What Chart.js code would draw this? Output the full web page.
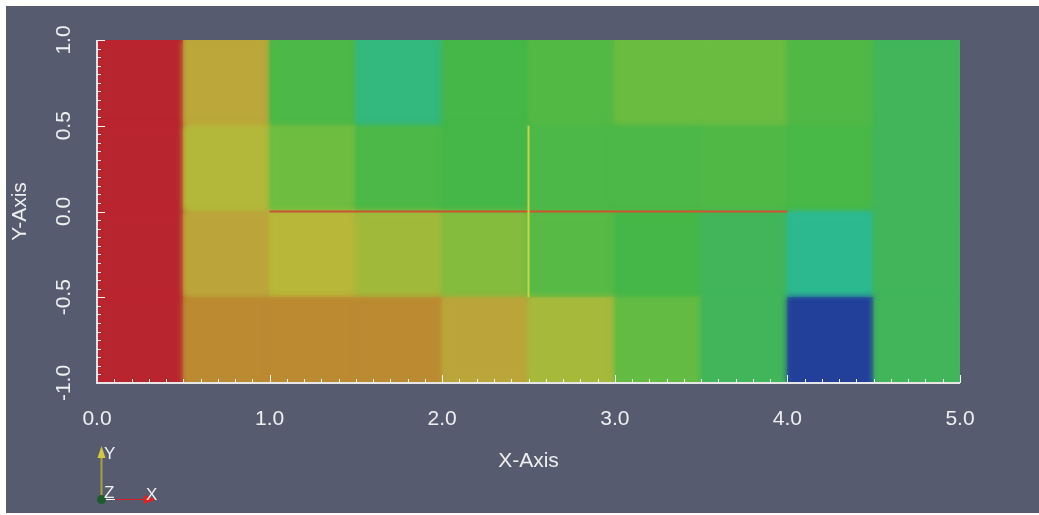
<!DOCTYPE html>
<html>
<head>
<meta charset="utf-8">
<script src="https://cdn.jsdelivr.net/npm/chart.js@4.4.1/dist/chart.umd.min.js"></script>
<style>
  html, body { margin: 0; padding: 0; background: #fff; overflow: hidden; }
  #wrap { width: 1039px; height: 515px; position: relative; }
</style>
</head>
<body>
<div id="wrap"><canvas id="myChart"></canvas></div>
<script>
// cell centres along x, one row of cells per y band
const xCenters = [0.25, 0.75, 1.25, 1.75, 2.25, 2.75, 3.25, 3.75, 4.25, 4.75]
const rowBands = [[0.5, 1], [0, 0.5], [-0.5, 0], [-1, -0.5]]

// scalar value of each cell (0 = blue ... 1 = red)
const rowTop    = [1.00, 0.79, 0.50, 0.37, 0.48, 0.52, 0.58, 0.58, 0.51, 0.43]
const rowUpper  = [1.00, 0.71, 0.59, 0.50, 0.48, 0.50, 0.50, 0.51, 0.49, 0.43]
const rowLower  = [1.00, 0.80, 0.72, 0.68, 0.63, 0.53, 0.48, 0.43, 0.34, 0.43]
const rowBottom = [1.00, 0.88, 0.88, 0.88, 0.80, 0.69, 0.56, 0.43, 0.00, 0.43]
const rows = [rowTop, rowUpper, rowLower, rowBottom]

// probe lines
const redLineX = [1, 4]
const redLineY = [0, 0]
const yellowLineX = [2.5, 2.5]
const yellowLineY = [-0.5, 0.5]

const xTicks = [0, 1, 2, 3, 4, 5]
const yTicks = [-1, -0.5, 0, 0.5, 1]

// colour map
const stops = [
    [0.00, [34, 64, 154]],
    [0.22, [34, 184, 208]],
    [0.35, [45, 185, 138]],
    [0.42, [66, 181, 94]],
    [0.48, [68, 183, 72]],
    [0.60, [114, 189, 64]],
    [0.72, [185, 183, 57]],
    [0.80, [187, 165, 58]],
    [0.88, [187, 138, 49]],
    [1.00, [185, 37, 46]]
]
function toColor(t) {
    for (var i = 1; i < stops.length; i++) {
        if (t <= stops[i][0]) {
            const a = stops[i - 1], b = stops[i]
            const f = (t - a[0]) / (b[0] - a[0])
            const c = a[1].map((v, k) => Math.round(v + (b[1][k] - v) * f))
            return 'rgb(' + c.join(',') + ')'
        }
    }
    return 'rgb(' + stops[stops.length - 1][1].join(',') + ')'
}

const textColor = '#efefef'
const fontFamily = '"Liberation Sans", Arial, sans-serif'
Chart.defaults.font.family = fontFamily

// all cells in one dataset so they can be smoothed together
var cells = []
var cellColors = []
rows.forEach((vals, i) => {
    vals.forEach((v, j) => {
        cells.push({ x: xCenters[j], y: rowBands[i] })
        cellColors.push(toColor(v))
    })
})

const datasets = [{
    type: 'bar',
    data: cells,
    backgroundColor: cellColors,
    borderWidth: 0,
    barPercentage: 1,
    categoryPercentage: 1,
    grouped: false,
    order: 2
}, {
    type: 'line',
    data: redLineX.map((x, i) => ({ x: x, y: redLineY[i] })),
    borderColor: '#cc5430',
    borderWidth: 2,
    pointRadius: 0,
    order: 1
}, {
    type: 'line',
    data: yellowLineX.map((x, i) => ({ x: x, y: yellowLineY[i] })),
    borderColor: '#c9d444',
    borderWidth: 2,
    pointRadius: 0,
    order: 0
}]

const decor = {
    id: 'decor',
    beforeDraw(chart) {
        const ctx = chart.ctx
        ctx.save()
        ctx.fillStyle = '#ffffff'
        ctx.fillRect(0, 0, chart.width, chart.height)
        ctx.fillStyle = '#565b70'
        ctx.fillRect(6, 6, chart.width - 6, chart.height - 8)
        ctx.restore()
    },
    beforeDatasetDraw(chart, args) {
        if (args.meta.type !== 'bar') return
        const ctx = chart.ctx
        const a = chart.chartArea
        // sharp pass first, then a blurred pass on top for the soft cell edges
        ctx.save()
        ctx.beginPath()
        ctx.rect(a.left, a.top, a.right - a.left, a.bottom - a.top)
        ctx.clip()
        args.meta.controller.draw()
        ctx.restore()
        ctx.save()
        ctx.filter = 'blur(3px)'
    },
    afterDatasetDraw(chart, args) {
        if (args.meta.type !== 'bar') return
        chart.ctx.restore()
    },
    afterDatasetsDraw(chart) {
        const ctx = chart.ctx
        const xs = chart.scales.x, ys = chart.scales.y
        const a = chart.chartArea
        ctx.save()
        // inward tick marks
        ctx.strokeStyle = '#f2f2f2'
        ctx.lineWidth = 1
        ctx.beginPath()
        for (var i = 0; i <= 50; i++) {
            const px = Math.round(xs.getPixelForValue(i / 10)) + 0.5
            const len = i % 10 === 0 ? 8 : 4
            ctx.moveTo(px, a.bottom)
            ctx.lineTo(px, a.bottom - len)
        }
        for (var j = 0; j <= 40; j++) {
            const py = Math.round(ys.getPixelForValue(-1 + j * 0.05)) + 0.5
            const len = j % 10 === 0 ? 8 : 4
            ctx.moveTo(a.left, py)
            ctx.lineTo(a.left + len, py)
        }
        ctx.stroke()
        // axis lines
        ctx.strokeStyle = '#e6e6e6'
        ctx.lineWidth = 2
        ctx.beginPath()
        ctx.moveTo(a.left, a.top)
        ctx.lineTo(a.left, a.bottom)
        ctx.lineTo(a.right, a.bottom)
        ctx.stroke()
        // rotated y tick labels
        ctx.fillStyle = textColor
        ctx.font = '21px ' + fontFamily
        ctx.textAlign = 'center'
        ctx.textBaseline = 'alphabetic'
        yTicks.forEach(v => {
            ctx.save()
            ctx.translate(70, ys.getPixelForValue(v))
            ctx.rotate(-Math.PI / 2)
            ctx.fillText(v.toFixed(1), 0, 0)
            ctx.restore()
        })
        ctx.restore()
    },
    afterDraw(chart) {
        // orientation triad in the corner
        const ctx = chart.ctx
        ctx.save()
        ctx.lineWidth = 2
        ctx.strokeStyle = '#a9a23c'
        ctx.beginPath()
        ctx.moveTo(101.5, 499)
        ctx.lineTo(101.5, 455)
        ctx.stroke()
        ctx.fillStyle = '#d2c842'
        ctx.beginPath()
        ctx.moveTo(97.5, 458)
        ctx.lineTo(105.5, 458)
        ctx.lineTo(101.5, 446)
        ctx.fill()
        ctx.strokeStyle = '#ffffff'
        ctx.lineWidth = 1
        ctx.beginPath()
        ctx.moveTo(103, 499.5)
        ctx.lineTo(115, 499.5)
        ctx.stroke()
        ctx.strokeStyle = '#d42020'
        ctx.beginPath()
        ctx.moveTo(115, 499.5)
        ctx.lineTo(145, 499.5)
        ctx.stroke()
        ctx.fillStyle = '#e02222'
        ctx.beginPath()
        ctx.moveTo(144, 495)
        ctx.lineTo(144, 504)
        ctx.lineTo(156, 499.5)
        ctx.fill()
        ctx.fillStyle = '#1d5a2c'
        ctx.beginPath()
        ctx.arc(101.5, 499.5, 4.5, 0, Math.PI * 2)
        ctx.fill()
        ctx.fillStyle = '#f0f0f0'
        ctx.font = '17px ' + fontFamily
        ctx.textAlign = 'left'
        ctx.textBaseline = 'alphabetic'
        ctx.fillText('Y', 104, 459)
        ctx.fillText('Z', 104, 498)
        ctx.fillText('X', 146, 500)
        ctx.restore()
    }
}

var myChart = new Chart(document.getElementById('myChart').getContext('2d'), {
    type: 'bar',
    data: { datasets: datasets },
    options: {
        responsive: true,
        maintainAspectRatio: false,
        animation: false,
        layout: { padding: { top: 40, right: 79, left: 0, bottom: 0 } },
        plugins: { legend: { display: false }, tooltip: { enabled: false } },
        scales: {
            x: {
                type: 'linear',
                min: 0,
                max: 5,
                offset: false,
                afterBuildTicks: s => { s.ticks = xTicks.map(v => ({ value: v })) },
                afterFit: s => { s.height = 132 },
                grid: { display: false, drawTicks: false },
                border: { display: false },
                ticks: {
                    color: textColor,
                    font: { size: 21 },
                    padding: 24,
                    maxRotation: 0,
                    callback: v => Number(v).toFixed(1)
                },
                title: {
                    display: true,
                    text: 'X-Axis',
                    color: textColor,
                    font: { size: 21 },
                    padding: { top: 0, bottom: 41 }
                }
            },
            y: {
                type: 'linear',
                min: -1,
                max: 1,
                afterFit: s => { s.width = 97 },
                grid: { display: false, drawTicks: false },
                border: { display: false },
                ticks: { display: false },
                title: {
                    display: true,
                    text: 'Y-Axis',
                    color: textColor,
                    font: { size: 21 },
                    padding: { top: 8, bottom: 0 }
                }
            }
        }
    },
    plugins: [decor]
})
</script>
</body>
</html>
